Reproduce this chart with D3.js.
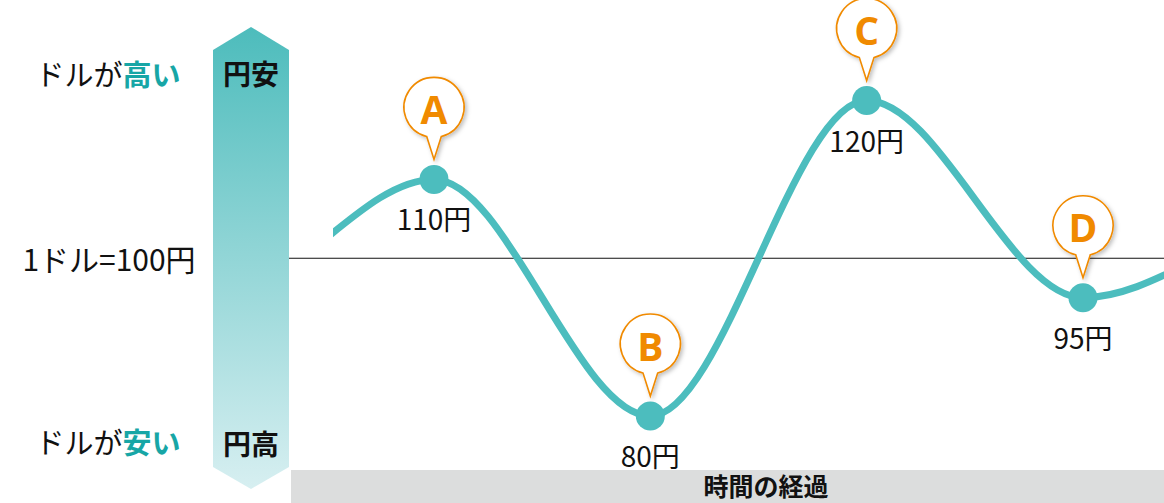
<!DOCTYPE html>
<html lang="ja">
<head>
<meta charset="utf-8">
<script src="https://cdn.jsdelivr.net/npm/d3@7"></script>
<style>
  html, body { margin: 0; padding: 0; background: #fff; }
  svg { display: block; font-family: "Noto Sans CJK JP", "Noto Sans", sans-serif; }
</style>
</head>
<body>
<svg id="chart" width="1164" height="503"></svg>
<script>
// Exchange-rate path over time (yen per dollar)
const pathTimes = [-2, -1, 0, 1, 2, 3, 4, 5];
const pathRates = [110, 95, 110, 80, 120, 95, 104, 92];

// Highlighted moments on the path
const markNames = ["A", "B", "C", "D"];
const markTimes = [0, 1, 2, 3];
const markRates = [110, 80, 120, 95];

// Reference rate and side labels
const baseRate = 100;
const baseLabel = "1ドル=100円";
const topLabel = ["ドルが", "高い"];
const bottomLabel = ["ドルが", "安い"];
const arrowTop = "円安";
const arrowBottom = "円高";
const timeLabel = "時間の経過";

const W = 1164, H = 503;
const teal = "#4cbdbe";
const orange = "#f08a00";

const svg = d3.select("#chart");
const defs = svg.append("defs");

const x = d3.scaleLinear().domain([0, 3]).range([434, 1083]);
const y = d3.scaleLinear().domain([80, 120]).range([416, 100.5]);

// Gradient for the vertical arrow
const grad = defs.append("linearGradient")
  .attr("id", "arrowGrad").attr("x1", 0).attr("y1", 0).attr("x2", 0).attr("y2", 1);
grad.append("stop").attr("offset", "0%").attr("stop-color", "#4dbcbc");
grad.append("stop").attr("offset", "100%").attr("stop-color", "#d7eff1");

const shadow = defs.append("filter").attr("id", "bubbleShadow")
  .attr("x", "-30%").attr("y", "-30%").attr("width", "170%").attr("height", "170%");
shadow.append("feDropShadow").attr("dx", 2).attr("dy", 2)
  .attr("stdDeviation", 2).attr("flood-color", "#000").attr("flood-opacity", 0.25);

defs.append("clipPath").attr("id", "plotClip")
  .append("rect").attr("x", 333).attr("y", 0).attr("width", W - 333).attr("height", H);

// Vertical arrow (円安 at top, 円高 at bottom)
const ax0 = 213, ax1 = 289, axm = (ax0 + ax1) / 2;
svg.append("path")
  .attr("d", `M${ax0},50 L${axm},27 L${ax1},50 L${ax1},467 L${axm},489 L${ax0},467 Z`)
  .attr("fill", "url(#arrowGrad)");

svg.append("text").attr("x", axm).attr("y", 73)
  .attr("text-anchor", "middle").attr("dominant-baseline", "central")
  .attr("font-size", 28).attr("font-weight", 700).attr("fill", "#111")
  .text(arrowTop);
svg.append("text").attr("x", axm).attr("y", 443)
  .attr("text-anchor", "middle").attr("dominant-baseline", "central")
  .attr("font-size", 28).attr("font-weight", 700).attr("fill", "#111")
  .text(arrowBottom);

// Side labels
function sideLabel(parts, yy) {
  const t = svg.append("text").attr("x", 108).attr("y", yy)
    .attr("text-anchor", "middle").attr("dominant-baseline", "central")
    .attr("font-size", 29);
  t.append("tspan").attr("fill", "#111").text(parts[0]);
  t.append("tspan").attr("fill", "#17a6a6").attr("font-weight", 700).text(parts[1]);
}
sideLabel(topLabel, 73);
sideLabel(bottomLabel, 441);

svg.append("text").attr("x", 109).attr("y", y(baseRate))
  .attr("text-anchor", "middle").attr("dominant-baseline", "central")
  .attr("font-size", 30).attr("fill", "#111").text(baseLabel);

// Time bar
svg.append("rect").attr("x", 291).attr("y", 470).attr("width", W - 291).attr("height", 40)
  .attr("fill", "#dcdddd");
svg.append("text").attr("x", 766).attr("y", 485)
  .attr("text-anchor", "middle").attr("dominant-baseline", "central")
  .attr("font-size", 25).attr("font-weight", 700).attr("fill", "#111")
  .text(timeLabel);

// Reference line at 100 yen
svg.append("line")
  .attr("x1", ax1).attr("x2", W)
  .attr("y1", y(baseRate)).attr("y2", y(baseRate))
  .attr("stroke", "#111").attr("stroke-width", 1.2);

// Rate path
const pathData = pathTimes.map((t, i) => [t, pathRates[i]]);
const line = d3.line().x(d => x(d[0])).y(d => y(d[1])).curve(d3.curveMonotoneX);
svg.append("path")
  .datum(pathData)
  .attr("clip-path", "url(#plotClip)")
  .attr("d", line)
  .attr("fill", "none")
  .attr("stroke", teal)
  .attr("stroke-width", 7);

// Marks
const marks = markNames.map((name, i) => ({ name, t: markTimes[i], v: markRates[i] }));

const g = svg.append("g").selectAll("g").data(marks).join("g")
  .attr("transform", d => `translate(${x(d.t)},${y(d.v)})`);

g.append("circle").attr("r", 14.5).attr("fill", teal);

g.append("text")
  .attr("y", 39).attr("text-anchor", "middle").attr("dominant-baseline", "central")
  .attr("font-size", 28).attr("fill", "#111")
  .text(d => `${d.v}円`);

// Callout bubbles
const r = 30, tailHalf = 7.3, tailY = Math.sqrt(r * r - tailHalf * tailHalf);
const bubble = g.append("g").attr("transform", "translate(0,-72)");
bubble.append("path")
  .attr("d", `M${-tailHalf},${tailY} A${r},${r} 0 1,1 ${tailHalf},${tailY} L0,${r + 22} Z`)
  .attr("fill", "#fff")
  .attr("stroke", orange)
  .attr("stroke-width", 1.6)
  .attr("filter", "url(#bubbleShadow)");
bubble.append("text")
  .attr("text-anchor", "middle").attr("dominant-baseline", "central")
  .attr("y", 1)
  .attr("font-family", "'Open Sans', 'Noto Sans', sans-serif")
  .attr("font-size", 39).attr("font-weight", 700).attr("fill", orange)
  .text(d => d.name);
</script>
</body>
</html>
